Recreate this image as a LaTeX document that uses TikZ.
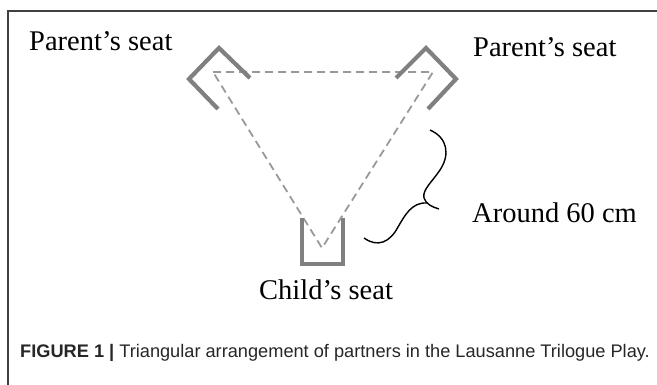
\documentclass[tikz,border=0pt]{standalone}
\usepackage{fontspec}
\setmainfont{Liberation Serif}
\newfontfamily\capfont{Liberation Sans}
\begin{document}
\begin{tikzpicture}[x=1pt,y=-1pt,
  seat/.style={draw=black!50,line width=4.2pt,line join=miter,line cap=butt},
  link/.style={draw=black!40,line width=1.8pt,dash pattern=on 8pt off 5pt},
  lbl/.style={font=\fontsize{28.5}{34}\selectfont,inner sep=0pt,anchor=base west},
  frameline/.style={draw=black!75,line width=1.2pt}]
\useasboundingbox (0,0) rectangle (657,385);
% frame
\coordinate (fTR) at (657,11);
\coordinate (fTL) at (8,11);
\coordinate (fBL) at (8,385);
\draw[frameline] (fTR) -- (fTL) -- (fBL);
% triangle vertices
\coordinate (vL) at (213,72);
\coordinate (vR) at (433,72);
\coordinate (vC) at (322,248);
\draw[link] (vL) -- (vR) -- (vC) -- cycle;
% seats
\draw[seat] (250,78) -- (219,48) -- (189,79) -- (218,109);
\draw[seat] (396,78) -- (426,48) -- (456,79) -- (428,109);
\draw[seat] (302,218) -- (302,264) -- (343,264) -- (343,218);
% brace
\coordinate (bTop) at (430,130);
\coordinate (bTip) at (439,209);
\coordinate (bLow) at (364,238);
\draw[line width=1.4pt,black] (bTop) .. controls (448,138) and (450,155) .. (440,170)
  .. controls (432,182) and (422,190) .. (424,198)
  .. controls (426,204) and (432,207) .. (bTip);
\draw[line width=1.4pt,black] (427,203) .. controls (412,202) and (405,215) .. (398,227)
  .. controls (390,242) and (378,248) .. (bLow);
% labels
\node[lbl] (pL) at (29,51) {Parent’s seat};
\node[lbl] (pR) at (473,57) {Parent’s seat};
\node[lbl] (dist) at (472,223) {Around 60 cm};
\node[lbl] (child) at (259,300) {Child’s seat};
\node[inner sep=0pt,anchor=base west,font=\capfont\fontsize{18.2}{22}\selectfont,text=black!85] (cap) at (20,357)
  {\textbf{FIGURE 1 |} Triangular arrangement of partners in the Lausanne Trilogue Play.};
\end{tikzpicture}
\end{document}
